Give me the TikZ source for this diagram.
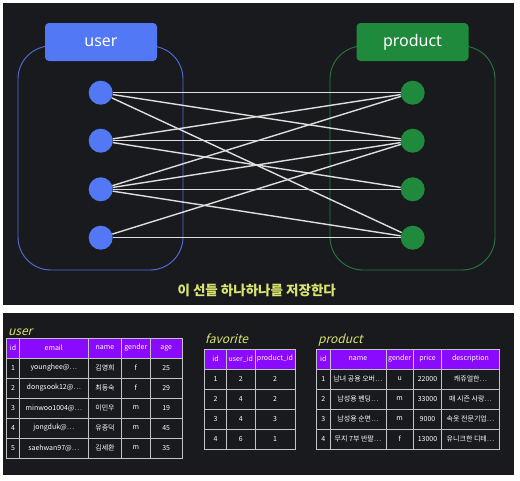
\documentclass[tikz,border=0pt]{standalone}
\usepackage{fontspec}
\setmainfont{Noto Sans}
\newfontfamily\krfont{Noto Sans CJK KR}
\newfontfamily\handfont[FakeSlant=0.25]{Noto Sans CJK KR}
\usepackage{tikz}
\usetikzlibrary{positioning}
\definecolor{panelBg}{RGB}{25,26,30}
\definecolor{userBlue}{RGB}{82,120,245}
\definecolor{userEdge}{RGB}{80,110,225}
\definecolor{prodGreen}{RGB}{32,138,60}
\definecolor{prodEdge}{RGB}{40,120,62}
\definecolor{linkGray}{RGB}{222,222,222}
\definecolor{headPurple}{RGB}{138,10,255}
\definecolor{gridGray}{RGB}{195,195,195}
\definecolor{titleYellow}{RGB}{218,228,110}
\tikzset{
  tagBox/.style={rectangle,rounded corners=4pt,fill=#1,text=white,
                 minimum width=112,minimum height=38,font=\fontsize{16}{18}\selectfont},
  groupBox/.style={draw=#1,line width=0.9pt,rounded corners=33pt},
  entDot/.style={circle,fill=#1,minimum size=24,inner sep=0},
  link/.style={draw=linkGray,line width=1.4pt},
  tblCell/.style={rectangle,draw=gridGray,line width=0.8pt,fill=panelBg,text=white,
                  minimum height=20,inner sep=0,font=\krfont\fontsize{7}{8}\selectfont},
  tblHead/.style={tblCell,fill=headPurple},
  tblTitle/.style={anchor=base west,text=titleYellow,inner sep=0,
                   font=\handfont\fontsize{12}{13}\selectfont},
}
\begin{document}
\begin{tikzpicture}[x=1pt,y=-1pt]
  \useasboundingbox[fill=white] (0,0) rectangle (520,480);
  \fill[panelBg] (3,3) rectangle (514,305);
  \fill[panelBg] (3,313) rectangle (514,475);
  % entity groups
  \draw[groupBox=userEdge] (18,46) rectangle (183,270);
  \draw[groupBox=prodEdge] (330,46) rectangle (495,270);
  \node[tagBox=userBlue] (userTag) at (101,42) {user};
  \node[tagBox=prodGreen] (prodTag) at (412.5,42) {product};
  \foreach \y [count=\i] in {92.7,140.7,189.3,237.7}{
    \node[entDot=userBlue] (u\i) at (100.7,\y) {};
    \node[entDot=prodGreen] (p\i) at (412.7,\y) {};
  }
  \foreach \a/\b in {u1/p1,u1/p2,u1/p4,u2/p1,u2/p2,u2/p3,
                     u3/p1,u3/p2,u3/p3,u3/p4,u4/p2,u4/p4}{
    \draw[link] (\a) -- (\b);
  }
  \node[text=titleYellow,font=\krfont\bfseries\fontsize{13.5}{14}\selectfont] (caption) at (256.7,290)
      {이 선들 하나하나를 저장한다};
  % user table
  \node[tblTitle] (userTitle) at (8,335) {user};
  \def\ucx{{13,53.8,105,135.85,166.15}}
  \def\ucw{{12.6,69,33.4,28.3,32.3}}
  \foreach \t [count=\i] in {id,email,name,gender,age}{
    \pgfmathsetmacro\cx{\ucx[\i-1]}
    \pgfmathsetmacro\cw{\ucw[\i-1]}
    \node[tblHead,minimum width=\cw] (uh\i) at (\cx,348) {\t};
  }
  \foreach \y/\row [count=\j] in {368/{1,younghee@⋯,김영희,f,25},
      388/{2,dongsook12@⋯,최동숙,f,29},408/{3,minwoo1004@⋯,이민우,m,19},
      428/{4,jongduk@⋯,유종덕,m,45},448/{5,saehwan97@⋯,김세환,m,35}}{
    \foreach \v [count=\i] in \row {
      \pgfmathsetmacro\cx{\ucx[\i-1]}
      \pgfmathsetmacro\cw{\ucw[\i-1]}
      \node[tblCell,minimum width=\cw] (u\j c\i) at (\cx,\y) {\v};
    }
  }
  % favorite table
  \node[tblTitle] (favTitle) at (205,343) {favorite};
  \def\fcx{{215.5,240.85,275}}
  \def\fcw{{22.4,28.3,40}}
  \foreach \t [count=\i] in {id,user\_id,product\_id}{
    \pgfmathsetmacro\cx{\fcx[\i-1]}
    \pgfmathsetmacro\cw{\fcw[\i-1]}
    \node[tblHead,minimum width=\cw] (fh\i) at (\cx,359) {\t};
  }
  \foreach \y/\row [count=\j] in {379/{1,2,2},399/{2,4,2},419/{3,4,3},439/{4,6,1}}{
    \foreach \v [count=\i] in \row {
      \pgfmathsetmacro\cx{\fcx[\i-1]}
      \pgfmathsetmacro\cw{\fcw[\i-1]}
      \node[tblCell,minimum width=\cw] (f\j c\i) at (\cx,\y) {\v};
    }
  }
  % product table
  \node[tblTitle] (prodTitle) at (318,343) {product};
  \def\pcx{{323.35,358,399.65,427.5,470.5}}
  \def\pcw{{13.3,56,27.3,28.4,57.6}}
  \foreach \t [count=\i] in {id,name,gender,price,description}{
    \pgfmathsetmacro\cx{\pcx[\i-1]}
    \pgfmathsetmacro\cw{\pcw[\i-1]}
    \node[tblHead,minimum width=\cw] (ph\i) at (\cx,359) {\t};
  }
  \foreach \y/\row [count=\j] in {379/{1,남녀 공용 오버⋯,u,22000,캐쥬얼한⋯},
      399/{2,남성용 벤딩⋯,m,33000,매 시즌 사랑⋯},
      419/{3,남성용 순면⋯,m,9000,속옷 전문기업⋯},
      439/{4,무지 7부 반팔⋯,f,13000,유니크한 디테⋯}}{
    \foreach \v [count=\i] in \row {
      \pgfmathsetmacro\cx{\pcx[\i-1]}
      \pgfmathsetmacro\cw{\pcw[\i-1]}
      \node[tblCell,minimum width=\cw] (p\j c\i) at (\cx,\y) {\v};
    }
  }
\end{tikzpicture}
\end{document}
